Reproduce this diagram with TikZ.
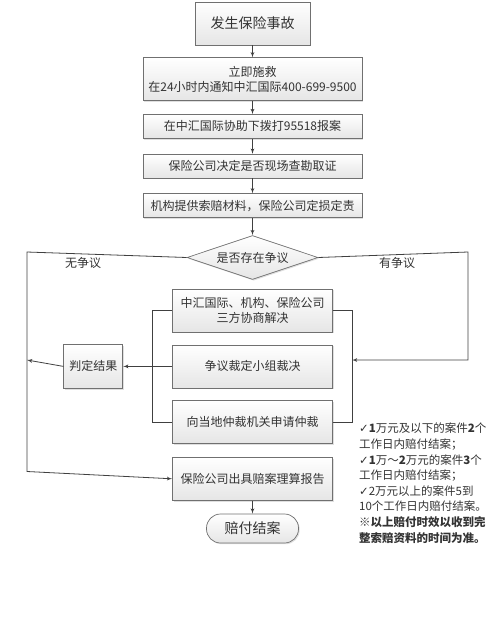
\documentclass[tikz,border=0pt]{standalone}
\usepackage{fontspec}
\setmainfont{Noto Sans CJK SC}
\newfontfamily\symfont{DejaVu Sans}
\usepackage{tikz}
\usetikzlibrary{positioning}
\usetikzlibrary{shapes,arrows,shadows}
\definecolor{edgegray}{HTML}{707070}
\definecolor{linegray}{HTML}{404040}
\definecolor{textgray}{HTML}{333333}
\tikzset{
block/.style = {draw=edgegray, top color=white, bottom color=gray!20, rectangle, line width=0.7pt,
    drop shadow={shadow xshift=1.2pt, shadow yshift=-1.2pt, opacity=0.25},
    text=textgray, font=\fontsize{12}{15}\selectfont, align=center, inner sep=0pt,
    minimum width=219pt, minimum height=24pt},
inner/.style = {block, minimum width=160pt, minimum height=43pt},
decision/.style = {block, diamond, aspect=3, minimum width=131pt, minimum height=44pt},
terminal/.style = {block, rounded corners=14pt, minimum width=92pt, minimum height=29pt,
    font=\fontsize{14}{16}\selectfont},
tmp/.style  = {coordinate},
line/.style = {draw=linegray, line width=0.8pt},
note/.style = {text=textgray, font=\fontsize{12}{15}\selectfont}
}

\begin{document}
\begin{tikzpicture}[x=1pt, y=1pt, >=latex']
    \useasboundingbox (0,0) rectangle (500,-622);
    % We start by placing the blocks
    \node [block, minimum width=115pt, minimum height=43pt, font=\fontsize{14}{16}\selectfont] (accident) at (252.5,-23.5) {发生保险事故};
    \node [block, minimum height=43pt, below=12pt of accident] (rescue) {立即施救\\在24小时内通知中汇国际400-699-9500};
    \node [block, below=13pt of rescue] (report) {在中汇国际协助下拨打95518报案};
    \node [block, below=15pt of report] (survey) {保险公司决定是否现场查勘取证};
    \node [block, below=15pt of survey] (material) {机构提供索赔材料，保险公司定损定责};
    \node [decision, below=17pt of material] (dispute) {是否存在争议};
    \node [inner, below=9pt of dispute] (talk) {中汇国际、机构、保险公司\\三方协商解决};
    \node [inner, below=12pt of talk] (panel) {争议裁定小组裁决};
    \node [inner, below=12pt of panel] (arbit) {向当地仲裁机关申请仲裁};
    \node [inner, left=49pt of panel, minimum width=59pt, minimum height=44pt] (judge) {判定结果};
    \node [inner, below=13pt of arbit] (settle) {保险公司出具赔案理算报告};
    \node [terminal, below=13pt of settle] (close) {赔付结案};

    % corner points of the side rails
    \node [tmp] (lefttop) at (27,-252) {};
    \node [tmp] (leftmid) at (27,-360) {};
    \node [tmp] (leftbot) at (27,-471.5) {};
    \node [tmp] (righttop) at (468,-252) {};
    \node [tmp] (rightmid) at (468,-360) {};
    \node [tmp] (bracket) at (352,-360) {};

    \draw [line,->] (accident) -- (rescue);
    \draw [line,->] (rescue) -- (report);
    \draw [line,->] (report) -- (survey);
    \draw [line,->] (survey) -- (material);
    \draw [line,->] (material) -- (dispute);
    \draw [line,->] (dispute.west) -- (lefttop) -- (leftbot) -- (settle.west);
    \draw [line,->] (dispute.east) -- (righttop) -- (rightmid) -- (bracket);
    \draw [line] (talk.west) -- ++(-20,0) |- (arbit.west);
    \draw [line] (talk.east) -- ++(19.5,0) |- (arbit.east);
    \draw [line,->] (panel.west) -- (judge.east);
    \draw [line,->] (judge.west) -- (leftmid);
    \draw [line,->] (settle) -- (close);

    \node [note] (nodispute) at (83,-263) {无争议};
    \node [note] (yesdispute) at (397,-263) {有争议};
    \node [note, anchor=north west, align=left, inner sep=0pt, font=\fontsize{11.5}{15.6}\selectfont] (timing) at (359,-423)
        {{\symfont\bfseries ✓}\textbf{1}万元及以下的案件\textbf{2}个\\
         工作日内赔付结案；\\
         {\symfont\bfseries ✓}\textbf{1}万～\textbf{2}万元的案件\textbf{3}个\\
         工作日内赔付结案；\\
         {\symfont ✓}2万元以上的案件5到\\
         10个工作日内赔付结案。\\
         \textbf{※以上赔付时效以收到完}\\
         \textbf{整索赔资料的时间为准。}};
\end{tikzpicture}
\end{document}
